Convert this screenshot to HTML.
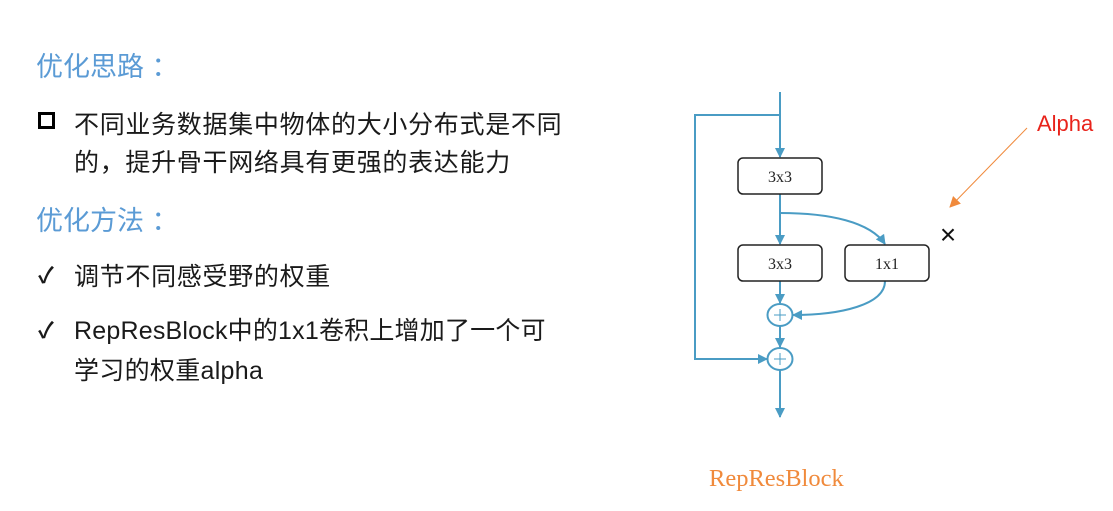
<!DOCTYPE html>
<html><head><meta charset="utf-8"><style>
body{margin:0;width:1113px;height:511px;background:#fff;position:relative;overflow:hidden;font-family:"Liberation Sans","Noto Sans CJK SC",sans-serif}
.t{position:absolute;white-space:nowrap}
.h{color:#5b9bd5;font-size:27px}
.b{color:#1a1a1a;font-size:25px;letter-spacing:0.7px}
</style></head><body>
<div class="t h" style="left:36px;top:45px">优化思路&nbsp;：</div>
<div class="t" style="left:38px;top:112px;width:11px;height:11px;border:3px solid #000"></div>
<div class="t b" style="left:74px;top:105px">不同业务数据集中物体的大小分布式是不同</div>
<div class="t b" style="left:74px;top:143px">的，提升骨干网络具有更强的表达能力</div>
<div class="t h" style="left:36px;top:199px">优化方法&nbsp;：</div>
<div class="t b" style="left:38px;top:258px;font-size:22px;font-weight:bold">✓</div>
<div class="t b" style="left:74px;top:257px">调节不同感受野的权重</div>
<div class="t b" style="left:38px;top:313px;font-size:22px;font-weight:bold">✓</div>
<div class="t b" style="left:74px;top:311px;letter-spacing:0.2px">RepResBlock中的1x1卷积上增加了一个可</div>
<div class="t b" style="left:74px;top:351px;letter-spacing:0.3px">学习的权重alpha</div>
<svg width="1113" height="511" style="position:absolute;left:0;top:0">
<defs><marker id="a" markerWidth="10" markerHeight="10" refX="9" refY="5" orient="auto" markerUnits="userSpaceOnUse"><path d="M0,0L10,5L0,10z" fill="#4a9cc4"/></marker>
<marker id="o" markerWidth="11" markerHeight="11" refX="10" refY="5.5" orient="auto" markerUnits="userSpaceOnUse"><path d="M0,0L11,5.5L0,11z" fill="#f08a3c"/></marker></defs>
<g stroke="#4a9cc4" stroke-width="2" fill="none">
<line x1="780" y1="92" x2="780" y2="157" marker-end="url(#a)"/>
<polyline points="780,115 695,115 695,359 767,359" marker-end="url(#a)"/>
<line x1="780" y1="194" x2="780" y2="244" marker-end="url(#a)"/>
<path d="M780,213 C830,213 870,222 885,244" marker-end="url(#a)"/>
<line x1="780" y1="281" x2="780" y2="303" marker-end="url(#a)"/>
<path d="M885,281 C885,305 840,315 793,315" marker-end="url(#a)"/>
<line x1="780" y1="326" x2="780" y2="347" marker-end="url(#a)"/>
<line x1="780" y1="370" x2="780" y2="417" marker-end="url(#a)"/>
<ellipse cx="780" cy="315" rx="12.5" ry="11"/><ellipse cx="780" cy="359" rx="12.5" ry="11"/>
<path d="M774,315h12M780,309v12M774,359h12M780,353v12" stroke-width="1"/>
</g>
<g stroke="#222" stroke-width="1.5" fill="#fff">
<rect x="738" y="158" width="84" height="36" rx="5"/><rect x="738" y="245" width="84" height="36" rx="5"/><rect x="845" y="245" width="84" height="36" rx="5"/>
</g>
<g font-family="Liberation Serif,serif" font-size="16" fill="#222" text-anchor="middle">
<text x="780" y="182">3x3</text><text x="780" y="269">3x3</text><text x="887" y="269">1x1</text></g>
<line x1="1027" y1="128" x2="950" y2="207" stroke="#f08a3c" stroke-width="1" marker-end="url(#o)"/>
<text x="948" y="244" font-size="28" fill="#111" text-anchor="middle" font-family="Liberation Sans,sans-serif">×</text>
<text x="1037" y="131" font-size="22" fill="#e8231b" font-family="Liberation Sans,sans-serif">Alpha</text>
<text x="709" y="486" font-size="24.5" fill="#f08a3c" font-family="Liberation Serif,serif">RepResBlock</text>
</svg>
</body></html>
